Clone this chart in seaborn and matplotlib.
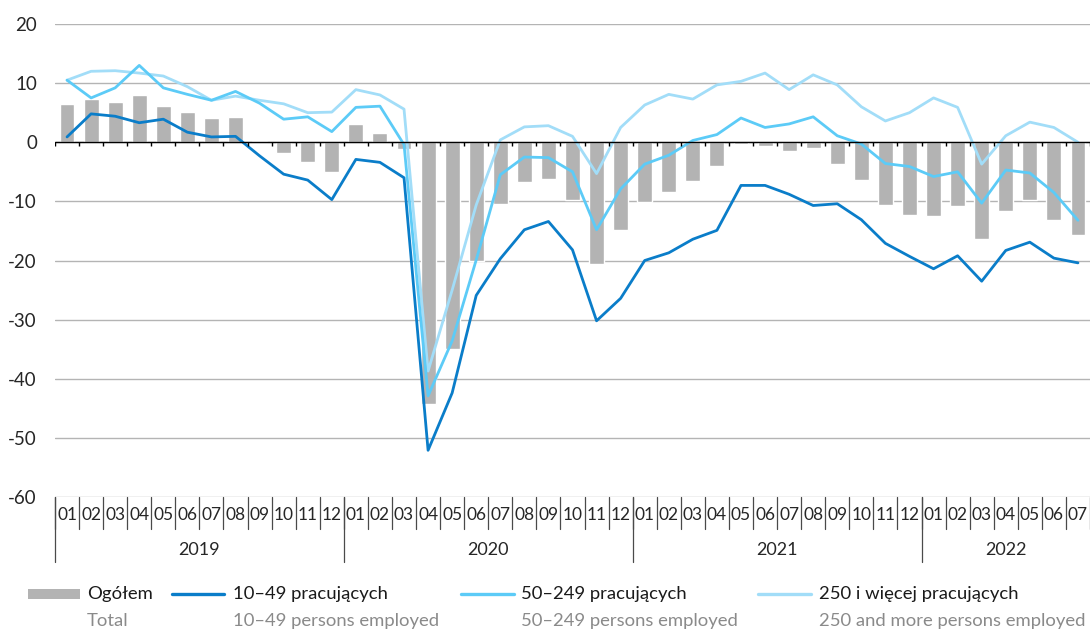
import matplotlib
matplotlib.use("Agg")
import matplotlib.pyplot as plt
import numpy as np
import pandas as pd
import seaborn as sns
from matplotlib.lines import Line2D
from matplotlib.patches import Rectangle

months = ['01', '02', '03', '04', '05', '06', '07', '08', '09', '10', '11', '12'] * 3 + \
         ['01', '02', '03', '04', '05', '06', '07']
years = ['2019'] * 12 + ['2020'] * 12 + ['2021'] * 12 + ['2022'] * 7

ogolem = [6.4, 7.3, 6.8, 8.0, 6.2, 5.1, 4.1, 4.2, 0.2, -1.9, -3.4, -5.0,
          3.1, 1.5, -1.1, -44.2, -34.9, -20.0, -10.5, -6.7, -6.3, -9.8, -20.6, -14.9,
          -10.1, -8.4, -6.6, -4.0, -0.3, -0.6, -1.5, -1.0, -3.7, -6.4, -10.6, -12.3,
          -12.5, -10.8, -16.3, -11.6, -9.7, -13.1, -15.7]
p10_49 = [0.9, 4.8, 4.4, 3.3, 3.9, 1.7, 0.9, 1.0, -2.3, -5.4, -6.4, -9.7,
          -2.9, -3.4, -6.0, -52.1, -42.4, -25.9, -19.7, -14.8, -13.4, -18.2, -30.2, -26.4,
          -20.0, -18.7, -16.4, -14.9, -7.3, -7.3, -8.8, -10.7, -10.4, -13.1, -17.1, -19.3,
          -21.4, -19.2, -23.5, -18.3, -16.9, -19.6, -20.4]
p50_249 = [10.5, 7.5, 9.2, 13.0, 9.2, 8.1, 7.1, 8.6, 6.6, 3.9, 4.3, 1.8,
           5.9, 6.1, -0.4, -42.9, -33.6, -19.9, -5.5, -2.5, -2.6, -5.0, -14.8, -7.9,
           -3.7, -2.2, 0.3, 1.3, 4.1, 2.5, 3.1, 4.3, 1.1, -0.3, -3.6, -4.1,
           -5.8, -5.0, -10.3, -4.7, -5.2, -8.5, -13.2]
p250 = [10.5, 12.0, 12.1, 11.7, 11.2, 9.4, 7.1, 7.8, 7.1, 6.5, 5.0, 5.1,
        8.9, 8.0, 5.6, -38.7, -25.0, -10.6, 0.4, 2.6, 2.8, 1.0, -5.3, 2.5,
        6.3, 8.1, 7.3, 9.7, 10.3, 11.7, 8.9, 11.4, 9.7, 6.0, 3.6, 5.0,
        7.5, 5.9, -3.7, 1.1, 3.4, 2.5, 0.0]

labels_pl = ['Ogółem', '10–49 pracujących', '50–249 pracujących', '250 i więcej pracujących']
labels_en = ['Total', '10–49 persons employed', '50–249 persons employed', '250 and more persons employed']

c_bar = '#b3b3b3'
c_dark = '#0a7dc9'
c_mid = '#5ccbf7'
c_light = '#a2ddf8'

sns.set_style("white")
plt.rcParams['font.family'] = ['Lato', 'DejaVu Sans']
plt.rcParams['axes.unicode_minus'] = False

df = pd.DataFrame({'poz': np.arange(len(months)), 'ogolem': ogolem,
                   'p10_49': p10_49, 'p50_249': p50_249, 'p250': p250})

W, H = 1090, 632
fig = plt.figure(figsize=(W / 100, H / 100), dpi=100)
ax = fig.add_axes([55 / W, 1 - 497 / H, 1035 / W, 473 / H])

sns.barplot(data=df, x='poz', y='ogolem', native_scale=True, color=c_bar,
            saturation=1, width=0.62, ax=ax, zorder=2)
sns.lineplot(data=df, x='poz', y='p250', color=c_light, lw=2.0, ax=ax, zorder=3)
sns.lineplot(data=df, x='poz', y='p50_249', color=c_mid, lw=2.0, ax=ax, zorder=3)
sns.lineplot(data=df, x='poz', y='p10_49', color=c_dark, lw=2.0, ax=ax, zorder=3)

ax.set_xlim(-0.5, len(months) - 0.5)
ax.set_ylim(-60, 20)
ax.set_yticks(range(-60, 21, 10))
ax.yaxis.grid(True, color='#b4b4b4', lw=1)
ax.set_axisbelow(True)
ax.set_xticks([])
ax.set_xlabel('')
ax.set_ylabel('')
for s in ax.spines.values():
    s.set_visible(False)
ax.tick_params(axis='y', length=0, pad=13, labelsize=13.5)
ax.axhline(0, color='black', lw=1, zorder=4)

# month boundary ticks on the zero line
bounds = np.arange(-0.5, len(months))
ax.vlines(bounds, 0, -0.7, color='black', lw=1, zorder=4)

# category axis under the plot
tr = ax.get_xaxis_transform()
for k, m in enumerate(months):
    ax.text(k, -0.037, m, transform=tr, ha='center', va='center', fontsize=12.5, clip_on=False)
for b in bounds:
    ax.plot([b, b], [0, -0.068], transform=tr, color='#4a4a4a', lw=0.9, clip_on=False)
yr = pd.Series(years)
for y in yr.unique():
    idx = np.where(yr == y)[0]
    ax.plot([idx[0] - 0.5] * 2, [0, -0.137], transform=tr, color='#4a4a4a', lw=0.9, clip_on=False)
    ax.text(idx.mean(), -0.112, y, transform=tr, ha='center', va='center', fontsize=13, clip_on=False)

# legend
def fx(x):
    return x / W

def fy(y):
    return 1 - y / H

fig.add_artist(Rectangle((fx(28), fy(599)), 52 / W, 10 / H, transform=fig.transFigure,
                         color=c_bar, lw=0))
handles_x = [(172, 224, c_dark), (461, 514, c_mid), (758, 811, c_light)]
for x0, x1, c in handles_x:
    fig.add_artist(Line2D([fx(x0), fx(x1)], [fy(594), fy(594)], transform=fig.transFigure,
                          color=c, lw=2.4))
text_x = [87, 233, 521, 819]
for x, pl, en in zip(text_x, labels_pl, labels_en):
    fig.text(fx(x), fy(594), pl, ha='left', va='center', fontsize=13.3, color='#1a1a1a')
    fig.text(fx(x), fy(621), en, ha='left', va='center', fontsize=13.3, color='#8a8a8a')

fig.savefig('out.png', dpi=100)
